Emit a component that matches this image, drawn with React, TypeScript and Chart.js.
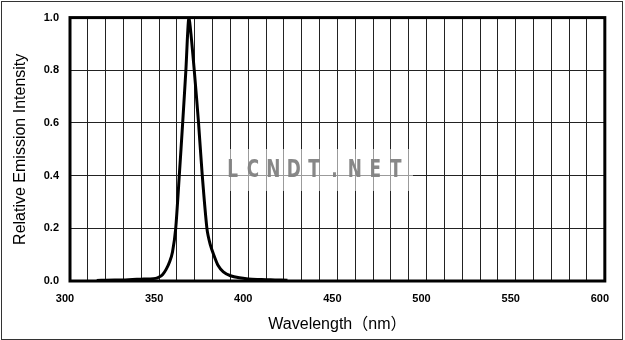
import React, { useEffect, useRef } from "react";
import { Chart, registerables } from "chart.js";

Chart.register(...registerables);

// Spectrum (nm, relative intensity)
const WAVELENGTHS = [315, 320, 330, 335, 340, 345, 348, 350, 352, 354, 356, 357.5, 359.3, 361.3, 363.2, 365.0, 366.7, 369.7, 372.1, 374.2, 376.8, 378.6, 380.6, 383, 386, 390, 395, 400, 405, 410, 415, 422];
const INTENSITIES = [0.002, 0.003, 0.004, 0.006, 0.007, 0.008, 0.01, 0.015, 0.025, 0.045, 0.075, 0.11, 0.2, 0.4, 0.6, 0.8, 1.0, 0.8, 0.6, 0.4, 0.2, 0.14, 0.1, 0.06, 0.035, 0.02, 0.012, 0.008, 0.006, 0.005, 0.004, 0.003];

const X_MIN = 300;
const X_MAX = 600;
const X_GRID_STEP = 10;
const X_LABEL_STEP = 50;
const Y_MIN = 0;
const Y_MAX = 1;
const Y_STEP = 0.2;

const X_TITLE = "Wavelength（nm）";
const Y_TITLE = "Relative Emission Intensity";
const WATERMARK = "LCNDT.NET";

const FONT = "'Liberation Sans', Arial, 'Noto Sans CJK SC', sans-serif";

const framePlugin = {
  id: "frame",
  beforeDatasetsDraw(chart: any) {
    const { ctx } = chart;
    ctx.save();
    // watermark backdrop
    ctx.fillStyle = "rgba(255,255,255,0.55)";
    ctx.fillRect(213, 149, 200, 42);
    ctx.fillStyle = "rgba(130,130,130,0.95)";
    ctx.font = "bold 25px 'Liberation Sans Narrow', 'DejaVu Sans Condensed', " + FONT;
    ctx.textAlign = "center";
    ctx.textBaseline = "middle";
    const chars = WATERMARK.split("");
    chars.forEach((c, i) => {
      ctx.save();
      ctx.translate(232.5 + i * 20.4, 170);
      ctx.scale(0.75, 1);
      ctx.fillText(c, 0, 0);
      ctx.restore();
    });
    ctx.restore();
  },
  afterDraw(chart: any) {
    const { ctx, chartArea } = chart;
    ctx.save();
    ctx.strokeStyle = "#000";
    ctx.lineWidth = 3;
    ctx.strokeRect(
      chartArea.left,
      chartArea.top,
      chartArea.right - chartArea.left,
      chartArea.bottom - chartArea.top
    );
    ctx.lineWidth = 1;
    ctx.strokeStyle = "#333";
    ctx.strokeRect(1.5, 1.5, 621, 338);
    ctx.restore();
  },
};

export default function App() {
  const canvasRef = useRef<HTMLCanvasElement | null>(null);

  useEffect(() => {
    document.body.style.margin = "0";
    if (!canvasRef.current) return;
    Chart.defaults.font.family = FONT;
    Chart.defaults.color = "#000";

    const chart = new Chart(canvasRef.current, {
      type: "line",
      data: {
        datasets: [
          {
            data: WAVELENGTHS.map((w, i) => ({ x: w, y: INTENSITIES[i] })),
            borderColor: "#000",
            borderWidth: 3,
            pointRadius: 0,
            fill: false,
            tension: 0.2,
          },
        ],
      },
      options: {
        animation: false,
        responsive: true,
        maintainAspectRatio: false,
        layout: { padding: { top: 17, right: 15, left: 0, bottom: 0 } },
        plugins: {
          legend: { display: false },
          tooltip: { enabled: false },
        },
        scales: {
          x: {
            type: "linear",
            min: X_MIN,
            max: X_MAX,
            afterFit: (scale: any) => {
              scale.height = 59;
            },
            grid: { color: "#222", lineWidth: 1, drawTicks: false },
            border: { display: false },
            ticks: {
              stepSize: X_GRID_STEP,
              autoSkip: false,
              maxRotation: 0,
              padding: 11,
              labelOffset: -5,
              font: { size: 11, weight: "bold" },
              callback: (v: any) => (Number(v) % X_LABEL_STEP === 0 ? String(v) : ""),
            },
            title: {
              display: true,
              text: X_TITLE,
              font: { size: 16 },
              padding: { top: 0, bottom: 6 },
            },
          },
          y: {
            min: Y_MIN,
            max: Y_MAX,
            afterFit: (scale: any) => {
              scale.width = 70;
            },
            grid: { color: "#222", lineWidth: 1, drawTicks: false },
            border: { display: false },
            ticks: {
              stepSize: Y_STEP,
              padding: 11,
              font: { size: 11, weight: "bold" },
              callback: (v: any) => Number(v).toFixed(1),
            },
            title: {
              display: true,
              text: Y_TITLE,
              font: { size: 16 },
              padding: { top: 11, bottom: 0 },
            },
          },
        },
      },
      plugins: [framePlugin],
    });
    return () => chart.destroy();
  }, []);

  return (
    <div style={{ width: 625, height: 340, position: "relative" }}>
      <canvas ref={canvasRef} />
    </div>
  );
}
